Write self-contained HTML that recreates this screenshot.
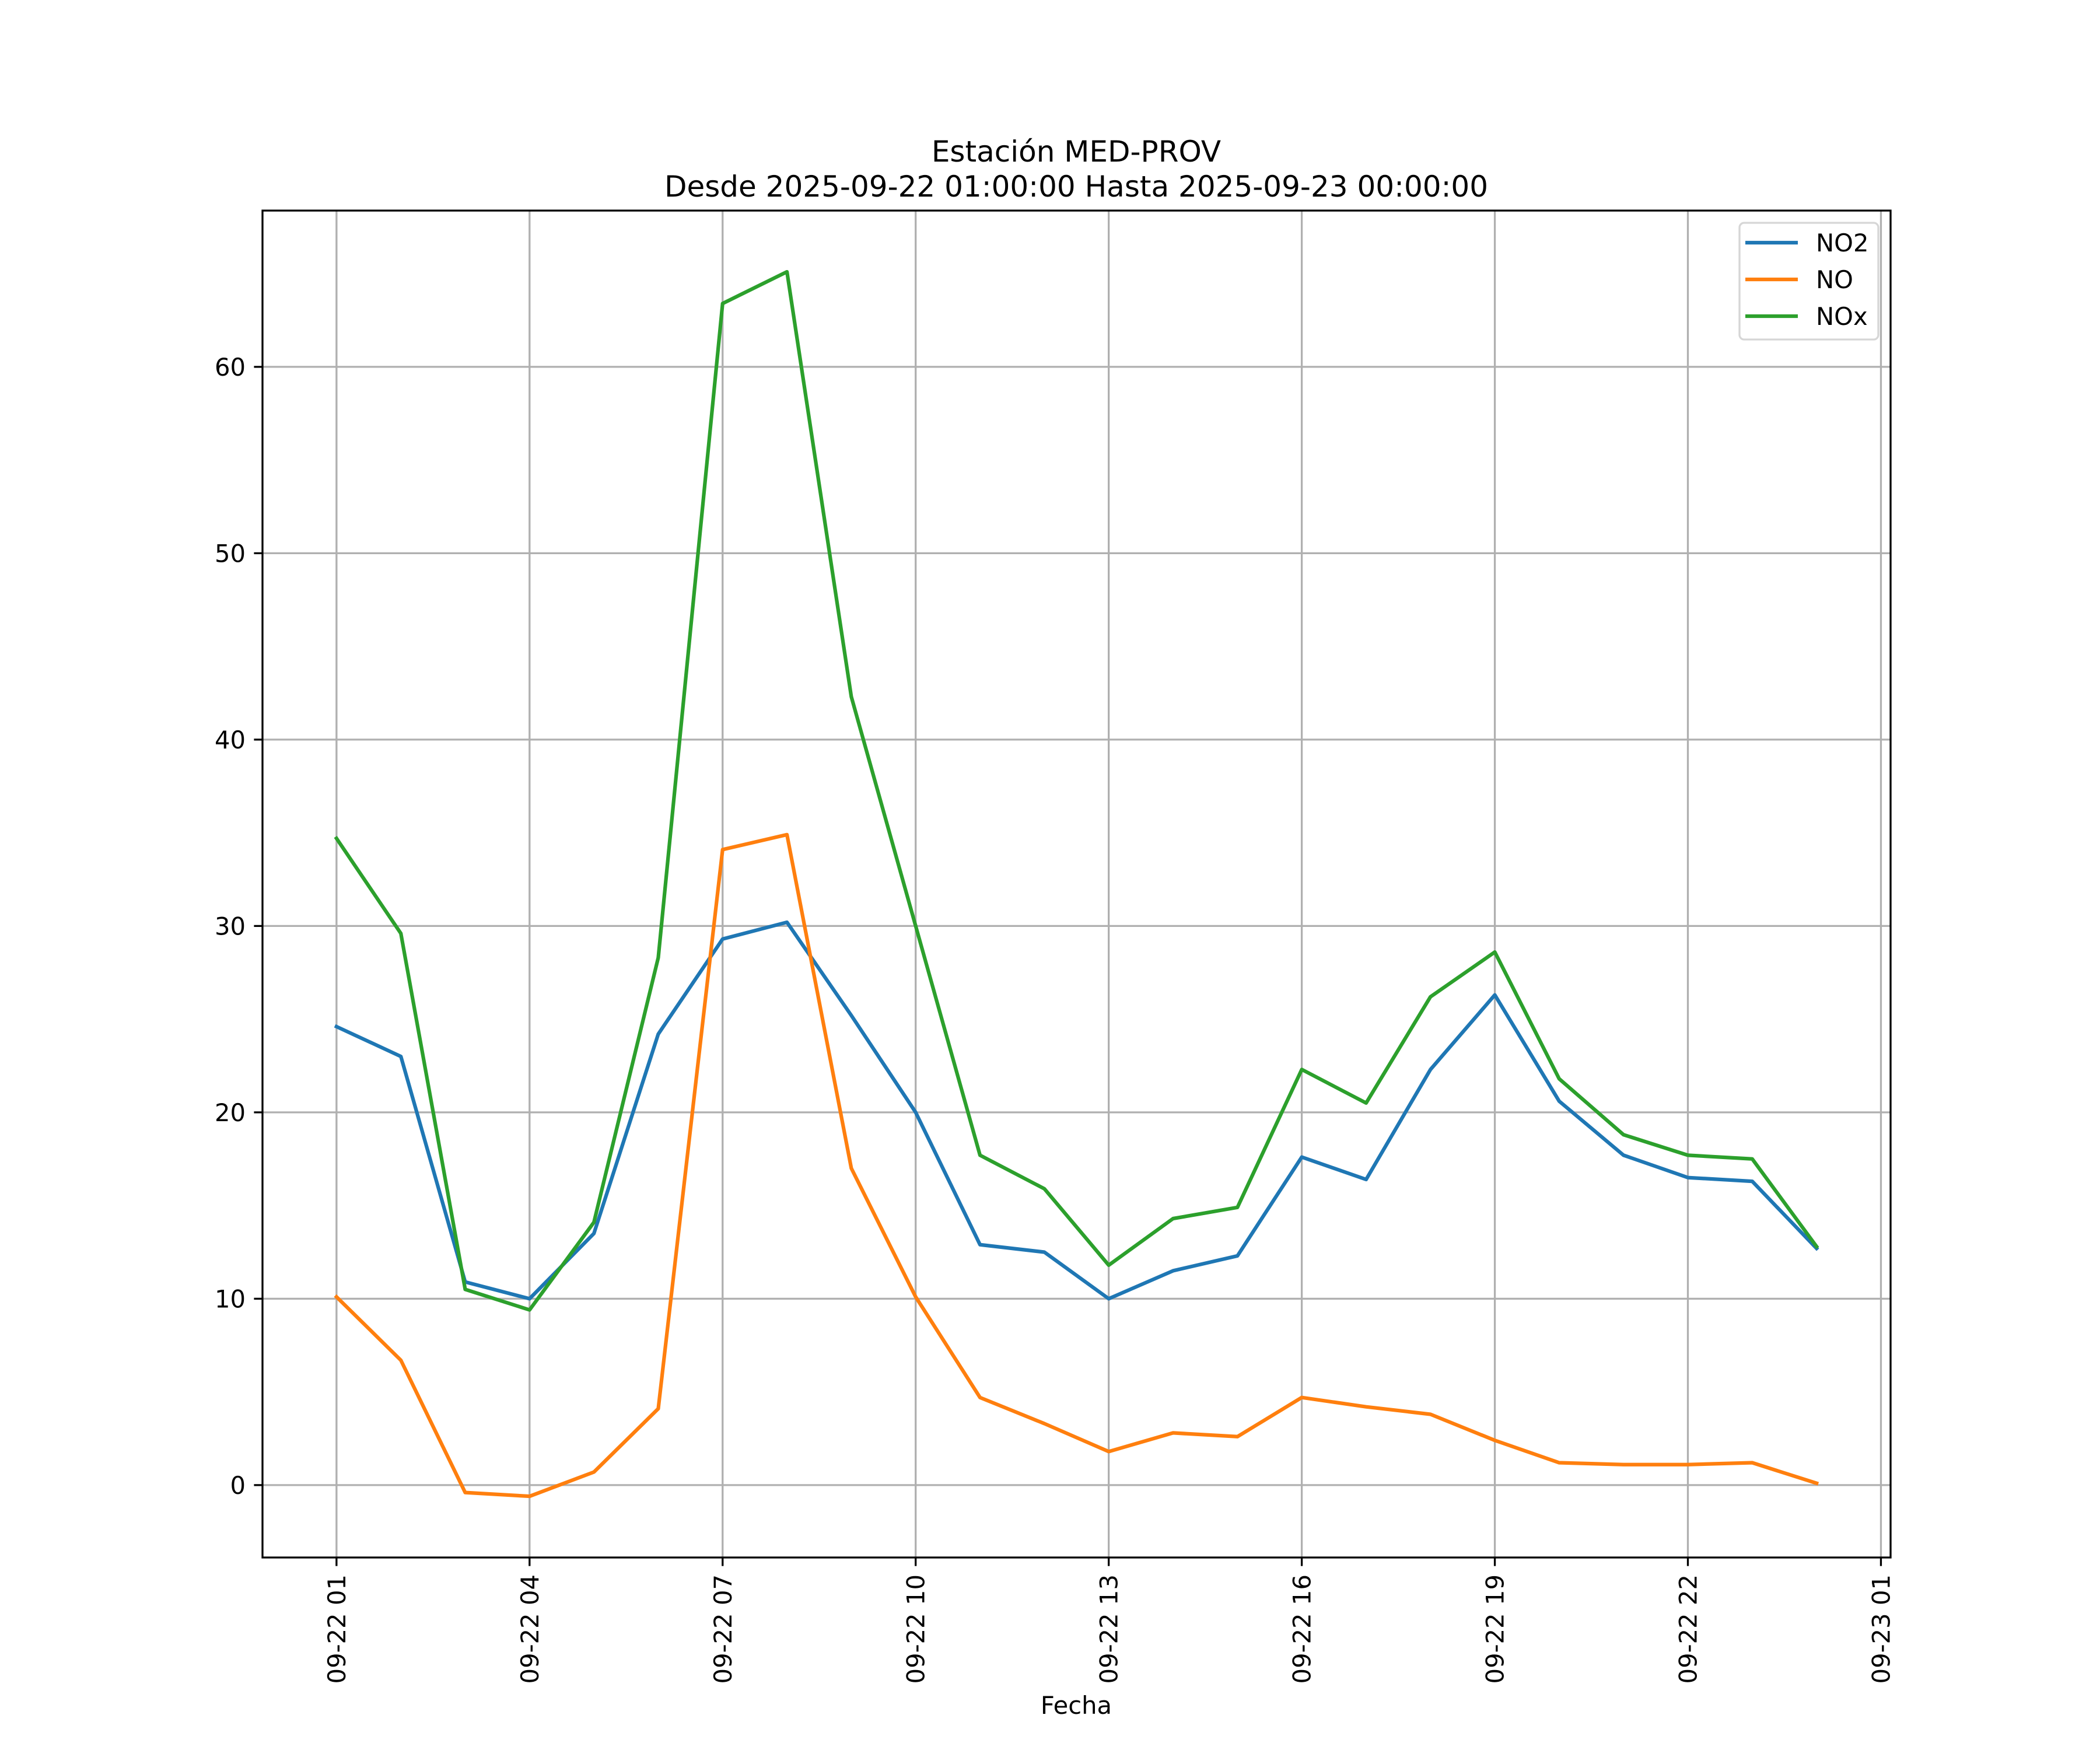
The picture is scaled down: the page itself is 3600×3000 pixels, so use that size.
<!DOCTYPE html>
<html><head><meta charset="utf-8"><style>
html,body{margin:0;padding:0;background:#fff}
svg{display:block;font-family:"DejaVu Sans","Liberation Sans",sans-serif}
</style></head><body>
<svg id="chart" width="3600" height="3000" viewBox="0 0 3600 3000">
<rect width="3600" height="3000" fill="#fff"/>
<g id="grid"></g>
<g id="series"></g>
<rect x="450" y="361" width="2791" height="2309" fill="none" stroke="#000" stroke-width="3.3"/>
<g id="ticks"></g>
<text x="1845" y="277" font-size="50" text-anchor="middle">Estación MED-PROV</text>
<text x="1845" y="337" font-size="50" text-anchor="middle">Desde 2025-09-22 01:00:00 Hasta 2025-09-23 00:00:00</text>
<text x="1845" y="2938" font-size="41.7" text-anchor="middle">Fecha</text>
<g id="legend">
<rect x="2982" y="382" width="238" height="200" rx="8" fill="#fff" fill-opacity="0.8" stroke="#d6d6d6" stroke-width="3.3"/>
</g>
</svg>
<script>
const hours = [1,2,3,4,5,6,7,8,9,10,11,12,13,14,15,16,17,18,19,20,21,22,23,24];
const no2 = [24.6,23.0,10.9,10.0,13.5,24.2,29.3,30.2,25.2,20.0,12.9,12.5,10.0,11.5,12.3,17.6,16.4,22.3,26.3,20.6,17.7,16.5,16.3,12.7];
const no = [10.1,6.7,-0.4,-0.6,0.7,4.1,34.1,34.9,17.0,10.1,4.7,3.3,1.8,2.8,2.6,4.7,4.2,3.8,2.4,1.2,1.1,1.1,1.2,0.1];
const nox = [34.7,29.6,10.5,9.4,14.1,28.3,63.4,65.1,42.3,30.0,17.7,15.9,11.8,14.3,14.9,22.3,20.5,26.2,28.6,21.8,18.8,17.7,17.5,12.8];
const seriesNames = ["NO2","NO","NOx"];
const xTickHours = [1,4,7,10,13,16,19,22,25];
const xTickLabels = ["09-22 01","09-22 04","09-22 07","09-22 10","09-22 13","09-22 16","09-22 19","09-22 22","09-23 01"];
const yTicks = [0,10,20,30,40,50,60];

const NS="http://www.w3.org/2000/svg";
const L=450,R=3241,T=361,B=2670;
const allV=no2.concat(no,nox);
const vmin=Math.min(...allV),vmax=Math.max(...allV);
const ypad=(vmax-vmin)*0.05,y0=vmin-ypad,y1=vmax+ypad;
const hmin=Math.min(...hours),hmax=Math.max(...hours);
const xpad=(hmax-hmin)*0.05,x0=hmin-xpad,x1=hmax+xpad;
const xs=h=>L+(h-x0)/(x1-x0)*(R-L);
const ys=v=>B-(v-y0)/(y1-y0)*(B-T);
function mk(tag,attrs,parent){const e=document.createElementNS(NS,tag);for(const k in attrs)e.setAttribute(k,attrs[k]);parent.appendChild(e);return e;}
const grid=document.getElementById('grid'),ticks=document.getElementById('ticks'),ser=document.getElementById('series'),leg=document.getElementById('legend');
xTickHours.forEach((h,i)=>{
  const x=xs(h);
  const g=mk('line',{x1:x,x2:x,y1:T,y2:B,stroke:'#b0b0b0','stroke-width':3.3},grid);
  
  
  const t=mk('line',{x1:x,x2:x,y1:B,y2:B+14.6,stroke:'#000','stroke-width':3.3},ticks);
  
  
  const tx=mk('text',{x:0,y:0,'font-size':41.7,'text-anchor':'end',transform:`translate(${x+15},${B+29}) rotate(-90)`},ticks);
  tx.textContent=xTickLabels[i];
  
  
});
yTicks.forEach(v=>{
  const y=ys(v);
  const g=mk('line',{x1:L,x2:R,y1:y,y2:y,stroke:'#b0b0b0','stroke-width':3.3},grid);
  
  
  const t=mk('line',{x1:L-14.6,x2:L,y1:y,y2:y,stroke:'#000','stroke-width':3.3},ticks);
  
  
  const tx=mk('text',{x:L-29,y:y+15,'font-size':41.7,'text-anchor':'end'},ticks);
  tx.textContent=String(v);
  
  
});
const data=[no2,no,nox],colors=['#1f77b4','#ff7f0e','#2ca02c'];
data.forEach((arr,i)=>{
  const p=mk('polyline',{points:arr.map((v,j)=>xs(hours[j])+','+ys(v)).join(' '),fill:'none',stroke:colors[i],'stroke-width':6.25,'stroke-linejoin':'round','stroke-linecap':'square'},ser);
  
  
  const y=416+i*63;
  const ll=mk('line',{x1:2992,x2:3082,y1:y,y2:y,stroke:colors[i],'stroke-width':6.25},leg);
  
  
  const lt=mk('text',{x:3113,y:y+15,'font-size':41.7},leg);
  lt.textContent=seriesNames[i];
  
  
});
</script>
</body></html>
